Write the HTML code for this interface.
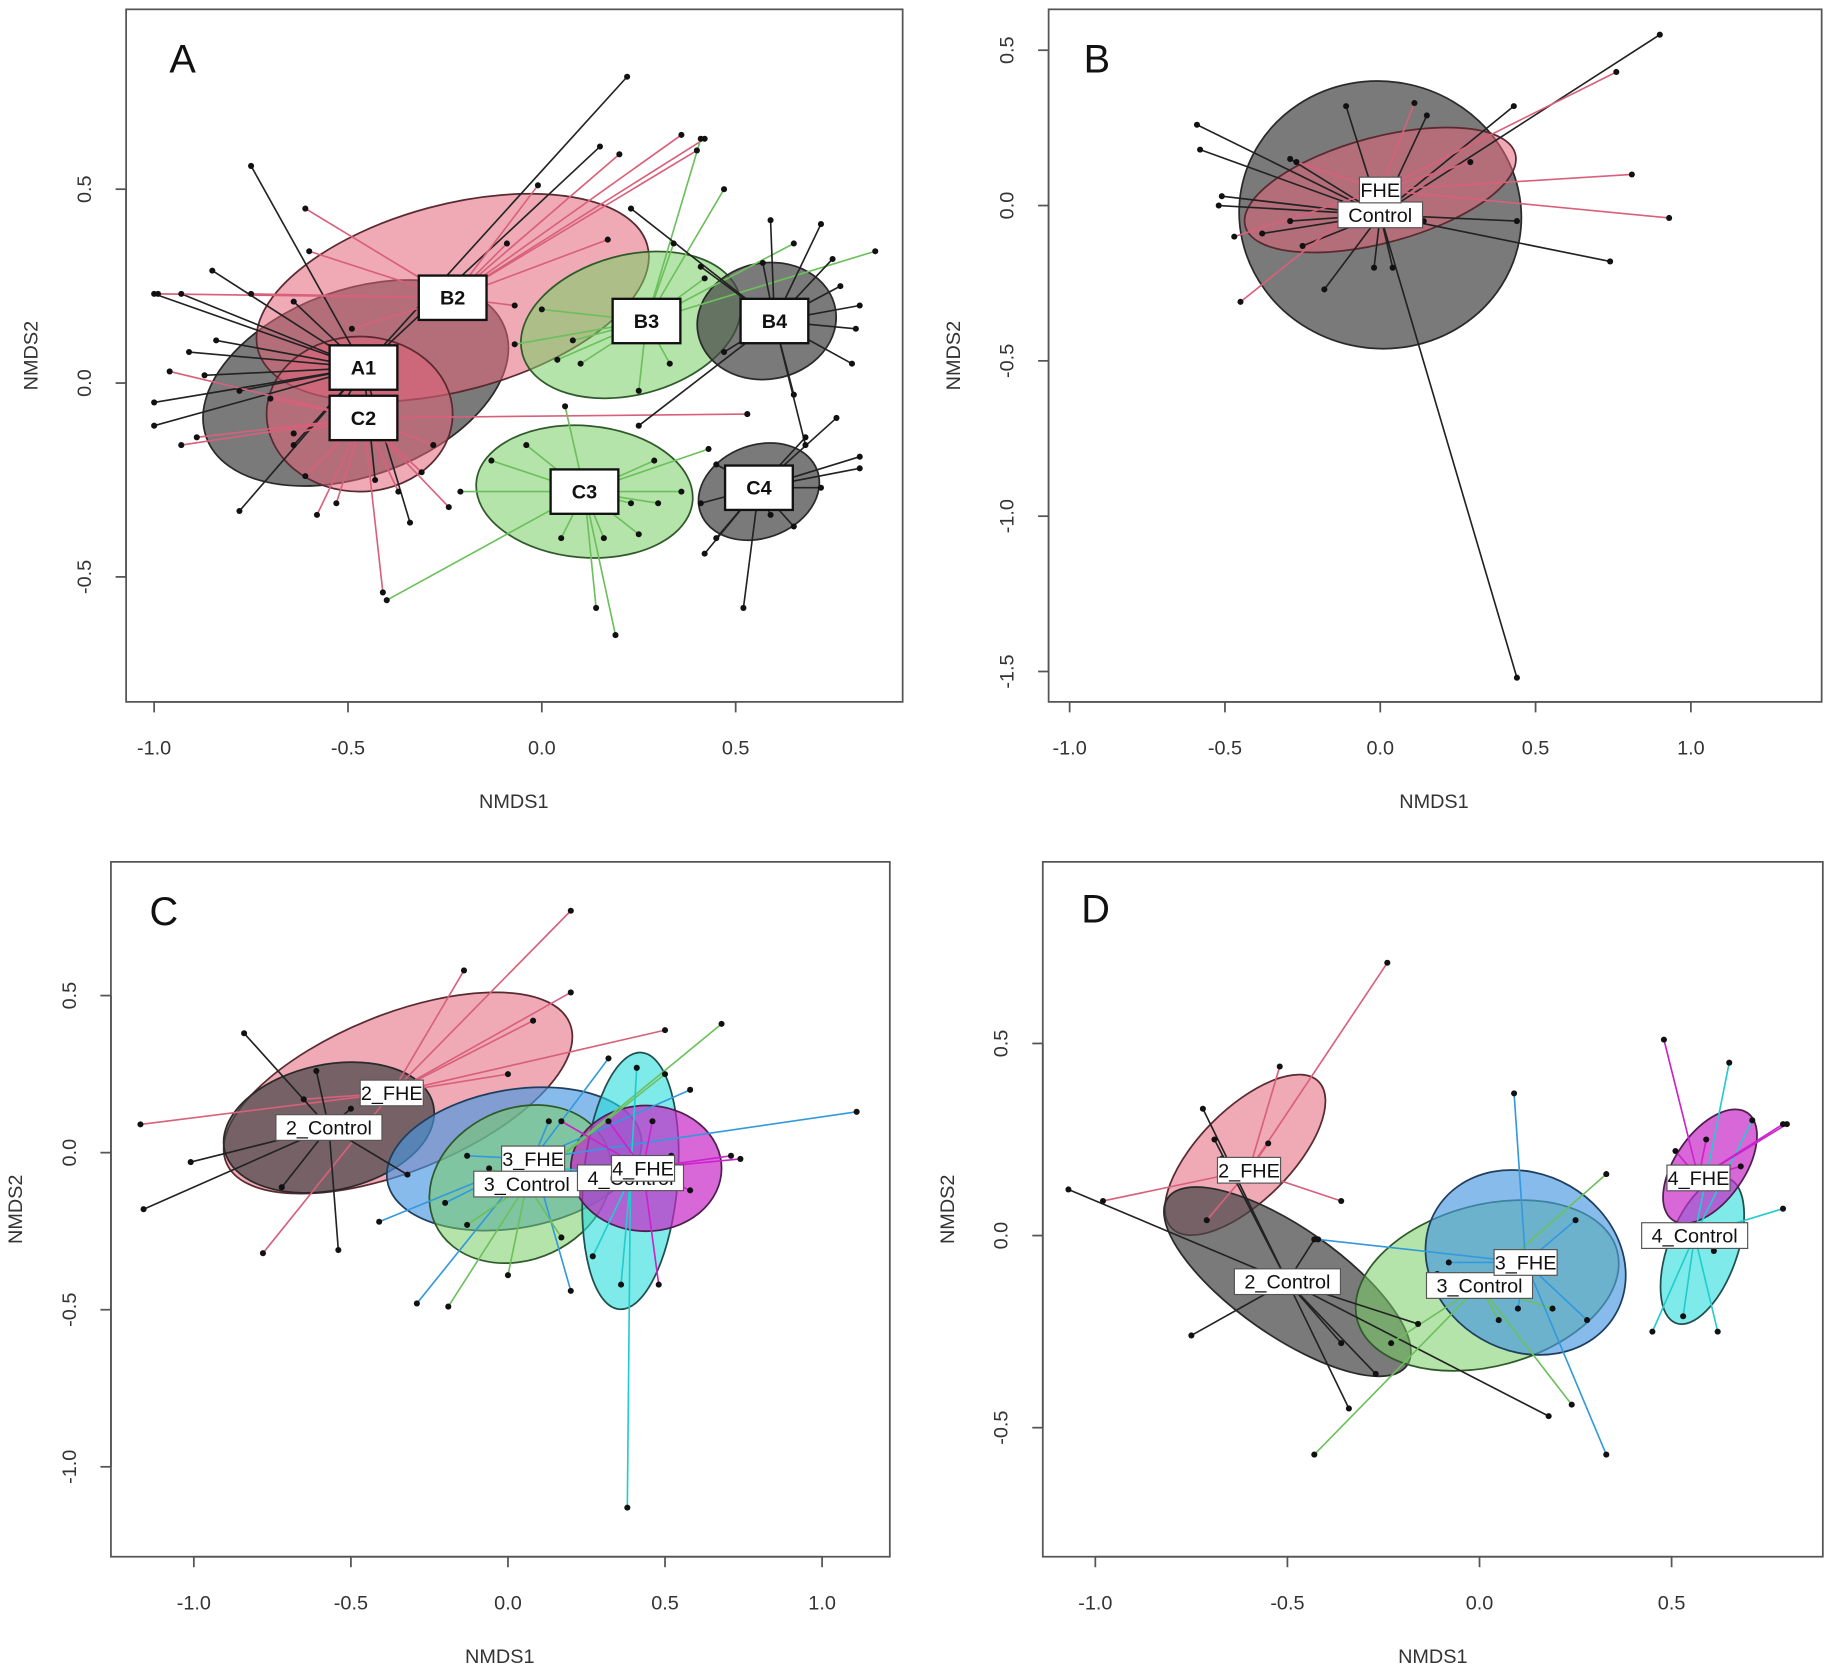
<!DOCTYPE html>
<html><head><meta charset="utf-8"><style>
html,body{margin:0;padding:0;background:#fff;}
svg{display:block;}
text{font-family:"Liberation Sans",sans-serif;}
</style></head><body>
<svg id="fig" width="1831" height="1670" viewBox="0 0 1568 1430" preserveAspectRatio="none" xmlns="http://www.w3.org/2000/svg"></svg>
<script>
// ---------- Panel A data ----------
const A_A1_c=[-0.46,0.04];
const A_A1_pts=[[-0.75,0.56],[-1.0,0.23],[-0.93,0.23],[-0.85,0.29],[-0.91,0.08],[-0.84,0.11],[-1.0,-0.05],[-1.0,-0.11],[-0.87,0.02],[-0.78,-0.02],[-0.78,-0.33],[-0.64,-0.16],[-0.52,-0.07],[-0.34,-0.36],[-0.43,-0.25],[0.22,0.79],[0.15,0.61],[-0.64,0.21]];
const A_C2_c=[-0.46,-0.09];
const A_C2_pts=[[-0.93,-0.16],[-0.89,-0.14],[-0.96,0.03],[-0.61,-0.24],[-0.53,-0.31],[-0.41,-0.54],[-0.24,-0.32],[-0.31,-0.23],[-0.28,-0.16],[-0.37,-0.28],[-0.64,-0.13],[-0.7,-0.04],[0.53,-0.08],[-0.58,-0.34]];
const A_B2_c=[-0.23,0.22];
const A_B2_pts=[[-0.61,0.45],[-0.99,0.23],[0.36,0.64],[0.42,0.63],[0.2,0.59],[-0.09,0.36],[-0.01,0.51],[-0.16,0.23],[0.4,0.6],[-0.75,0.23],[-0.6,0.34],[-0.49,0.14],[-0.07,0.2],[0.17,0.37]];
const A_B3_c=[0.27,0.16];
const A_B3_pts=[[0.41,0.63],[0.47,0.5],[0.34,0.36],[0.86,0.34],[0.0,0.19],[0.04,0.06],[0.1,0.05],[0.25,-0.02],[0.08,0.11],[0.65,0.36],[0.42,0.27],[0.33,0.05],[-0.07,0.1]];
const A_B4_c=[0.6,0.16];
const A_B4_pts=[[0.23,0.45],[0.59,0.42],[0.72,0.41],[0.75,0.32],[0.82,0.2],[0.81,0.14],[0.8,0.05],[0.65,-0.03],[0.68,-0.16],[0.25,-0.11],[0.47,0.08],[0.57,0.31],[0.77,0.25],[0.41,0.3]];
const A_C3_c=[0.11,-0.28];
const A_C3_pts=[[-0.04,-0.16],[0.06,-0.06],[0.19,-0.65],[0.14,-0.58],[0.05,-0.4],[0.16,-0.4],[0.25,-0.39],[0.3,-0.31],[0.36,-0.28],[0.43,-0.17],[-0.4,-0.56],[-0.21,-0.28],[-0.13,-0.2],[0.29,-0.2],[0.23,-0.31]];
const A_C4_c=[0.56,-0.27];
const A_C4_pts=[[0.45,-0.21],[0.52,-0.58],[0.42,-0.44],[0.45,-0.4],[0.59,-0.34],[0.68,-0.14],[0.76,-0.09],[0.82,-0.19],[0.82,-0.22],[0.72,-0.27],[0.65,-0.37],[0.41,-0.31]];
// ellipses: [cx, cy, rx, ry, angleDeg]
const A_ell_A1=[-0.48,0.0,0.41,0.24,20];
const A_ell_B2=[-0.23,0.22,0.52,0.24,15];
const A_ell_C2=[-0.47,-0.08,0.24,0.2,0];
const A_ell_B3=[0.23,0.15,0.29,0.18,15];
const A_ell_B4=[0.58,0.16,0.18,0.15,10];
const A_ell_C3=[0.11,-0.28,0.28,0.17,-5];
const A_ell_C4=[0.56,-0.28,0.16,0.12,20];
// ---------- Panel B data ----------
const B_Ctl_c=[0.0,-0.03];
const B_Ctl_pts=[[-0.59,0.26],[-0.58,0.18],[-0.51,0.03],[-0.52,0.0],[-0.29,0.15],[-0.11,0.32],[-0.29,-0.05],[-0.18,-0.27],[-0.02,-0.2],[0.04,-0.2],[0.44,-0.05],[0.74,-0.18],[0.44,-1.52],[0.43,0.32],[0.15,0.29],[0.9,0.55],[-0.38,-0.09],[-0.25,-0.13]];
const B_FHE_c=[0.0,0.05];
const B_FHE_pts=[[-0.45,-0.31],[-0.47,-0.1],[0.11,0.33],[0.76,0.43],[0.81,0.1],[0.93,-0.04],[0.14,-0.05],[-0.27,0.14],[0.29,0.14]];
const B_ell_Ctl=[0.0,-0.03,0.455,0.43,-10];
const B_ell_FHE=[0.0,0.05,0.45,0.17,15];
// ---------- Panel C data ----------
const C_2F_c=[-0.37,0.19];
const C_2F_pts=[[-1.17,0.09],[-0.78,-0.32],[-0.14,0.58],[0.2,0.77],[0.2,0.51],[0.08,0.42],[0.5,0.39],[0.0,0.25],[-0.65,0.17]];
const C_2C_c=[-0.57,0.08];
const C_2C_pts=[[-0.84,0.38],[-1.16,-0.18],[-1.01,-0.03],[-0.54,-0.31],[-0.72,-0.11],[-0.61,0.26],[-0.32,-0.07],[-0.5,0.14]];
const C_3F_c=[0.08,-0.02];
const C_3F_pts=[[-0.29,-0.48],[-0.41,-0.22],[1.11,0.13],[0.32,0.3],[0.58,0.2],[0.2,-0.44],[-0.13,-0.01],[0.13,0.1],[-0.2,-0.16]];
const C_3C_c=[0.06,-0.1];
const C_3C_pts=[[-0.19,-0.49],[0.0,-0.39],[0.68,0.41],[0.5,0.25],[0.17,-0.27],[-0.13,-0.23],[-0.06,-0.05]];
const C_4F_c=[0.43,-0.05];
const C_4F_pts=[[0.74,-0.02],[0.71,-0.01],[0.48,-0.42],[0.32,0.1],[0.58,-0.12],[0.17,0.1],[0.46,0.1]];
const C_4C_c=[0.39,-0.08];
const C_4C_pts=[[0.38,-1.13],[0.36,-0.42],[0.27,-0.33],[0.52,-0.01],[0.41,0.27],[0.17,-0.05]];
const C_ell_2F=[-0.35,0.19,0.59,0.25,22];
const C_ell_2C=[-0.57,0.08,0.34,0.2,12];
const C_ell_3F=[0.02,-0.02,0.41,0.22,10];
const C_ell_3C=[0.04,-0.1,0.3,0.24,25];
const C_ell_4C=[0.39,-0.09,0.15,0.41,-5];
const C_ell_4F=[0.44,-0.05,0.24,0.2,0];
// ---------- Panel D data ----------
const D_2F_c=[-0.6,0.17];
const D_2F_pts=[[-0.98,0.09],[-0.24,0.71],[-0.52,0.44],[-0.36,0.09],[-0.67,0.2],[-0.71,0.04],[-0.55,0.24]];
const D_2C_c=[-0.5,-0.12];
const D_2C_pts=[[-1.07,0.12],[-0.72,0.33],[-0.75,-0.26],[-0.34,-0.45],[-0.27,-0.36],[-0.16,-0.23],[0.18,-0.47],[-0.69,0.25],[-0.43,-0.01],[-0.36,-0.28]];
const D_3C_c=[0.0,-0.13];
const D_3C_pts=[[-0.43,-0.57],[0.24,-0.44],[0.33,0.16],[-0.23,-0.28],[-0.11,-0.1],[0.19,-0.19],[0.05,-0.22]];
const D_3F_c=[0.12,-0.07];
const D_3F_pts=[[0.09,0.37],[0.33,-0.57],[-0.42,-0.01],[0.25,0.04],[0.1,-0.19],[0.28,-0.22],[-0.08,-0.07]];
const D_4F_c=[0.57,0.15];
const D_4F_pts=[[0.48,0.51],[0.79,0.29],[0.8,0.29],[0.59,0.25],[0.51,0.22],[0.68,0.18]];
const D_4C_c=[0.56,0.0];
const D_4C_pts=[[0.65,0.45],[0.71,0.3],[0.79,0.07],[0.62,-0.25],[0.53,-0.21],[0.45,-0.25],[0.61,-0.04]];
const D_ell_2F=[-0.61,0.21,0.27,0.12,45];
const D_ell_2C=[-0.5,-0.12,0.38,0.14,-35];
const D_ell_3C=[0.02,-0.13,0.35,0.21,15];
const D_ell_3F=[0.12,-0.07,0.27,0.23,-30];
const D_ell_4C=[0.58,-0.04,0.2,0.09,70];
const D_ell_4F=[0.6,0.18,0.17,0.09,55];
// tick labels
const A_xticks=[-1.0,-0.5,0.0,0.5], A_yticks=[-0.5,0.0,0.5];
const B_xticks=[-1.0,-0.5,0.0,0.5,1.0], B_yticks=[-1.5,-1.0,-0.5,0.0,0.5];
const C_xticks=[-1.0,-0.5,0.0,0.5,1.0], C_yticks=[-1.0,-0.5,0.0,0.5];
const D_xticks=[-1.0,-0.5,0.0,0.5], D_yticks=[-0.5,0.0,0.5];

const NS="http://www.w3.org/2000/svg";
const svg=document.getElementById('fig');
function mk(tag,attrs,parent){const e=document.createElementNS(NS,tag);for(const k in attrs)e.setAttribute(k,attrs[k]);(parent||svg).appendChild(e);return e;}
const COL={
 gray:{fill:'rgba(70,70,70,0.72)',stroke:'#2a2a2a',line:'#222'},
 red:{fill:'rgba(225,100,122,0.55)',stroke:'#5a2a30',line:'#d9607a'},
 green:{fill:'rgba(120,205,100,0.55)',stroke:'#2f5a2a',line:'#6cc05c'},
 blue:{fill:'rgba(70,150,225,0.65)',stroke:'#1f3f5f',line:'#3399dd'},
 cyan:{fill:'rgba(40,220,220,0.6)',stroke:'#1f4f4f',line:'#22cccc'},
 magenta:{fill:'rgba(200,40,200,0.7)',stroke:'#4f1f4f',line:'#cc22cc'}
};
function fmt(v){return v.toFixed(1);}
function panel(p){
 const g=mk('g',{});
 
 
 const sx=v=>p.x0+v*p.k, sy=v=>p.y0-v*p.k;
 p.groups.forEach(gr=>{const e=gr.ell;
  const el=mk('ellipse',{cx:sx(e[0]),cy:sy(e[1]),rx:e[2]*p.k,ry:e[3]*p.k,transform:`rotate(${-e[4]} ${sx(e[0])} ${sy(e[1])})`,fill:COL[gr.col].fill,stroke:COL[gr.col].stroke,'stroke-width':1.5},g);
  
  });
 p.groups.forEach(gr=>{gr.pts.forEach(pt=>{
  const l=mk('line',{x1:sx(gr.c[0]),y1:sy(gr.c[1]),x2:sx(pt[0]),y2:sy(pt[1]),stroke:COL[gr.col].line,'stroke-width':1.4},g);
  
  });});
 p.groups.forEach(gr=>{gr.pts.forEach(pt=>{
  const c=mk('circle',{cx:sx(pt[0]),cy:sy(pt[1]),r:2.6,fill:'#111'},g);
  
  });});
 p.groups.forEach(gr=>{
  const lx=sx(gr.c[0]), ly=sy(gr.c[1]);
  const t=mk('text',{x:lx,y:ly+6,'text-anchor':'middle','font-size':17,'font-weight':p.bold?'bold':'normal',fill:'#111'},g);
  t.textContent=gr.label;
  const w=p.bold?58:(gr.label.length*9.2+8), h=p.bold?38:22;
  const r=mk('rect',{x:lx-w/2,y:ly-h/2,width:w,height:h,fill:'#fff',stroke:p.bold?'#111':'#555','stroke-width':p.bold?2:1},g);
  g.insertBefore(r,t);
  
  
  
  });
 const b=mk('rect',{x:p.bx0,y:p.by0,width:p.bx1-p.bx0,height:p.by1-p.by0,fill:'none',stroke:'#555','stroke-width':1.5},g);
 
 
 const xa=mk('line',{x1:sx(p.xt[0]),x2:sx(p.xt[p.xt.length-1]),y1:p.by1,y2:p.by1,stroke:'#555','stroke-width':1.5},g);
 
 
 p.xt.forEach(v=>{mk('line',{x1:sx(v),x2:sx(v),y1:p.by1,y2:p.by1+9,stroke:'#555','stroke-width':1.5},g);
  const t=mk('text',{x:sx(v),y:p.by1+45,'text-anchor':'middle','font-size':17,fill:'#333'},g);t.textContent=fmt(v);
  
  });
 const ya=mk('line',{x1:p.bx0,x2:p.bx0,y1:sy(p.yt[0]),y2:sy(p.yt[p.yt.length-1]),stroke:'#555','stroke-width':1.5},g);
 
 
 p.yt.forEach(v=>{mk('line',{x1:p.bx0-9,x2:p.bx0,y1:sy(v),y2:sy(v),stroke:'#555','stroke-width':1.5},g);
  const tx=p.bx0-30;
  const t=mk('text',{x:tx,y:sy(v),'text-anchor':'middle','font-size':17,fill:'#333',transform:`rotate(-90 ${tx} ${sy(v)})`},g);t.textContent=fmt(v);
  
  });
 const xt=mk('text',{x:p.xlx,y:p.by1+91,'text-anchor':'middle','font-size':17,fill:'#333'},g);xt.textContent='NMDS1';
 
 
 const yx=p.bx0-76, yy=(p.by0+p.by1)/2;
 const yt=mk('text',{x:yx,y:yy,'text-anchor':'middle','font-size':17,fill:'#333',transform:`rotate(-90 ${yx} ${yy})`},g);yt.textContent='NMDS2';
 
 
 const pl=mk('text',{x:p.lx,y:p.ly,'font-size':34,fill:'#111'},g);pl.textContent=p.id;
 
 
}
panel({id:'A',x0:464,y0:328,k:332,bx0:108,bx1:773,by0:8,by1:601,xt:A_xticks,yt:A_yticks,xlx:440,lx:145,ly:62,bold:true,groups:[
 {name:'a1',label:'A1',col:'gray',c:A_A1_c,pts:A_A1_pts,ell:A_ell_A1},
 {name:'b2',label:'B2',col:'red',c:A_B2_c,pts:A_B2_pts,ell:A_ell_B2},
 {name:'c2',label:'C2',col:'red',c:A_C2_c,pts:A_C2_pts,ell:A_ell_C2},
 {name:'b3',label:'B3',col:'green',c:A_B3_c,pts:A_B3_pts,ell:A_ell_B3},
 {name:'b4',label:'B4',col:'gray',c:A_B4_c,pts:A_B4_pts,ell:A_ell_B4},
 {name:'c3',label:'C3',col:'green',c:A_C3_c,pts:A_C3_pts,ell:A_ell_C3},
 {name:'c4',label:'C4',col:'gray',c:A_C4_c,pts:A_C4_pts,ell:A_ell_C4}]});
panel({id:'B',x0:1182,y0:176,k:266,bx0:898,bx1:1560,by0:8,by1:601,xt:B_xticks,yt:B_yticks,xlx:1228,lx:928,ly:62,bold:false,groups:[
 {name:'control',label:'Control',col:'gray',c:B_Ctl_c,pts:B_Ctl_pts,ell:B_ell_Ctl},
 {name:'fhe',label:'FHE',col:'red',c:B_FHE_c,pts:B_FHE_pts,ell:B_ell_FHE}]});
panel({id:'C',x0:435,y0:987,k:269,bx0:95,bx1:762,by0:738,by1:1333,xt:C_xticks,yt:C_yticks,xlx:428,lx:128,ly:792,bold:false,groups:[
 {name:'2-fhe',label:'2_FHE',col:'red',c:C_2F_c,pts:C_2F_pts,ell:C_ell_2F},
 {name:'2-control',label:'2_Control',col:'gray',c:C_2C_c,pts:C_2C_pts,ell:C_ell_2C},
 {name:'3-fhe',label:'3_FHE',col:'blue',c:C_3F_c,pts:C_3F_pts,ell:C_ell_3F},
 {name:'3-control',label:'3_Control',col:'green',c:C_3C_c,pts:C_3C_pts,ell:C_ell_3C},
 {name:'4-control',label:'4_Control',col:'cyan',c:C_4C_c,pts:C_4C_pts,ell:C_ell_4C},
 {name:'4-fhe',label:'4_FHE',col:'magenta',c:C_4F_c,pts:C_4F_pts,ell:C_ell_4F}]});
panel({id:'D',x0:1267,y0:1058,k:329,bx0:893,bx1:1561,by0:738,by1:1333,xt:D_xticks,yt:D_yticks,xlx:1227,lx:926,ly:790,bold:false,groups:[
 {name:'2-fhe',label:'2_FHE',col:'red',c:D_2F_c,pts:D_2F_pts,ell:D_ell_2F},
 {name:'2-control',label:'2_Control',col:'gray',c:D_2C_c,pts:D_2C_pts,ell:D_ell_2C},
 {name:'3-control',label:'3_Control',col:'green',c:D_3C_c,pts:D_3C_pts,ell:D_ell_3C},
 {name:'3-fhe',label:'3_FHE',col:'blue',c:D_3F_c,pts:D_3F_pts,ell:D_ell_3F},
 {name:'4-control',label:'4_Control',col:'cyan',c:D_4C_c,pts:D_4C_pts,ell:D_ell_4C},
 {name:'4-fhe',label:'4_FHE',col:'magenta',c:D_4F_c,pts:D_4F_pts,ell:D_ell_4F}]});
</script>
</body></html>
